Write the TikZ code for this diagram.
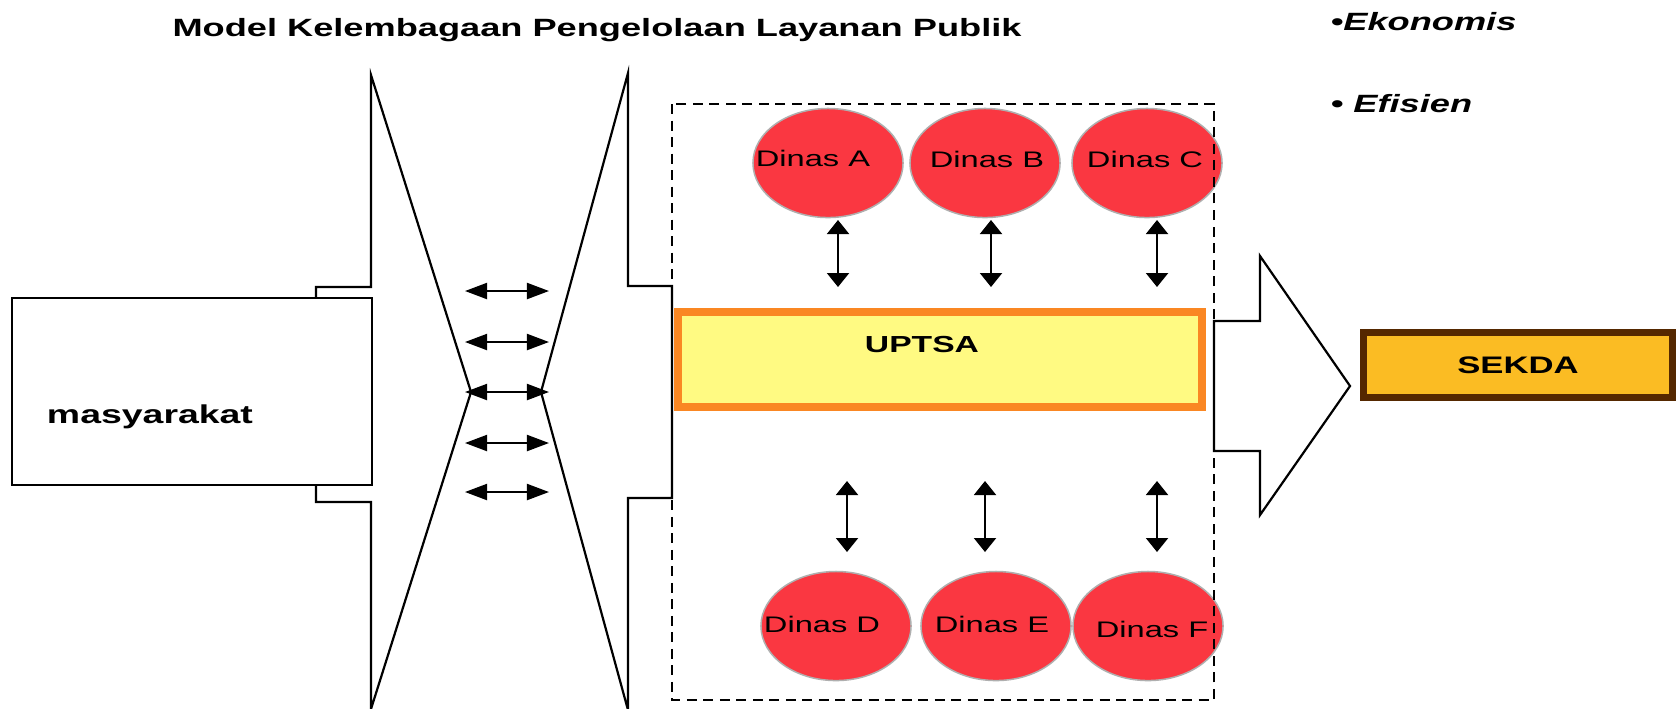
\documentclass[tikz,border=0pt]{standalone}
\usepackage{fontspec}
\setmainfont{Liberation Sans}
\usepackage{graphicx}
\usetikzlibrary{shapes.geometric,arrows.meta}
\definecolor{dinasred}{RGB}{250,55,65}
\definecolor{dinasedge}{RGB}{175,175,175}
\definecolor{uborder}{RGB}{250,135,35}
\definecolor{ufill}{RGB}{255,250,130}
\definecolor{sfill}{RGB}{251,188,35}
\definecolor{sborder}{RGB}{85,40,0}
\newcommand\hs[1]{\scalebox{1.45}[1]{#1}}
\newcommand\fsz[1]{\fontsize{#1}{#1}\selectfont}
\begin{document}
\begin{tikzpicture}[x=0.01cm,y=0.01cm,
  outline/.style={draw=black,line width=0.022cm,line join=miter},
  harrow/.style={line width=0.02cm,{Triangle[length=0.22cm,width=0.16cm]}-{Triangle[length=0.22cm,width=0.16cm]}},
  varrow/.style={line width=0.02cm,{Triangle[length=0.14cm,width=0.22cm]}-{Triangle[length=0.14cm,width=0.22cm]}},
  dinas/.style={ellipse,fill=dinasred,draw=dinasedge,line width=0.015cm,minimum width=1.5cm,minimum height=1.09cm,inner sep=0pt},
  dtext/.style={inner sep=0pt,anchor=base,font=\fsz{6.4pt}},
  btext/.style={inner sep=0pt,anchor=base,font=\bfseries\fsz{7.1pt}},
  itext/.style={inner sep=0pt,anchor=base west,font=\bfseries\itshape\fsz{7.1pt}},
]
\useasboundingbox (0,0) rectangle (1677,-708);
\fill[white] (0,0) rectangle (1677,-708);

% left arrow (towards the middle)
\draw[outline] (316,-287) -- (371,-287) -- (371,-75) -- (471,-392) -- (371,-709) -- (371,-502) -- (316,-502) -- cycle;
\node[draw=black,fill=white,line width=0.022cm,minimum width=3.6cm,minimum height=1.87cm,inner sep=0pt] (masy) at (192,-391.5) {};
\node[btext,font=\bfseries\fsz{7.34pt}] (masyt) at (150,-423) {\hs{masyarakat}};

% right funnel (arrow pointing left)
\draw[outline] (672,-286) -- (628,-286) -- (628,-73) -- (541,-392) -- (628,-710) -- (628,-498) -- (672,-498) -- cycle;

% horizontal double arrows
\foreach \i/\yy in {1/291,2/342,3/392,4/443,5/492}{
  \coordinate (hl\i) at (465,-\yy);
  \coordinate (hr\i) at (549,-\yy);
  \draw[harrow] (hl\i) -- (hr\i);
}

% Dinas ellipses
\node[dinas] (dA) at (828,-163) {};
\node[dinas] (dB) at (985,-163) {};
\node[dinas] (dC) at (1147,-163) {};
\node[dinas] (dD) at (836,-626) {};
\node[dinas] (dE) at (996,-626) {};
\node[dinas] (dF) at (1148,-626) {};
\node[dtext] (tA) at (813,-166) {\hs{Dinas A}};
\node[dtext] (tB) at (987,-167) {\hs{Dinas B}};
\node[dtext] (tC) at (1145,-167) {\hs{Dinas C}};
\node[dtext] (tD) at (822,-632) {\hs{Dinas D}};
\node[dtext] (tE) at (992,-632) {\hs{Dinas E}};
\node[dtext] (tF) at (1152,-637) {\hs{Dinas F}};

% UPTSA
\node[draw=uborder,fill=ufill,line width=0.08cm,minimum width=5.24cm,minimum height=0.95cm,inner sep=0pt] (uptsa) at (940,-359.5) {};
\node[btext,font=\bfseries\fsz{6.6pt}] (uptsat) at (922,-352) {\hs{UPTSA}};

% dashed frame
\draw[line width=0.022cm,dash pattern=on 0.1cm off 0.065cm] (672,-104) rectangle (1214,-700);

% vertical double arrows
\foreach \n/\xx in {1/838,2/991,3/1157}{
  \coordinate (vt\n) at (\xx,-220);
  \coordinate (vb\n) at (\xx,-287);
  \draw[varrow] (vt\n) -- (vb\n);
}
\foreach \n/\xx in {4/847,5/985,6/1157}{
  \coordinate (vt\n) at (\xx,-481);
  \coordinate (vb\n) at (\xx,-552);
  \draw[varrow] (vt\n) -- (vb\n);
}

% big arrow to SEKDA
\draw[outline] (1214,-321) -- (1260,-321) -- (1260,-256) -- (1350,-386) -- (1260,-515) -- (1260,-451) -- (1214,-451) -- cycle;

% SEKDA
\node[draw=sborder,fill=sfill,line width=0.07cm,minimum width=3.09cm,minimum height=0.65cm,inner sep=0pt,font=\bfseries\fsz{6.8pt}] (sekda) at (1518,-365) {\hs{SEKDA}};

% texts
\node[btext] (title) at (597,-36) {\hs{Model Kelembagaan Pengelolaan Layanan Publik}};
\node[itext] (eko) at (1330,-30) {\hs{•Ekonomis}};
\node[itext] (efi) at (1330,-112) {\hs{• Efisien}};
\end{tikzpicture}
\end{document}
